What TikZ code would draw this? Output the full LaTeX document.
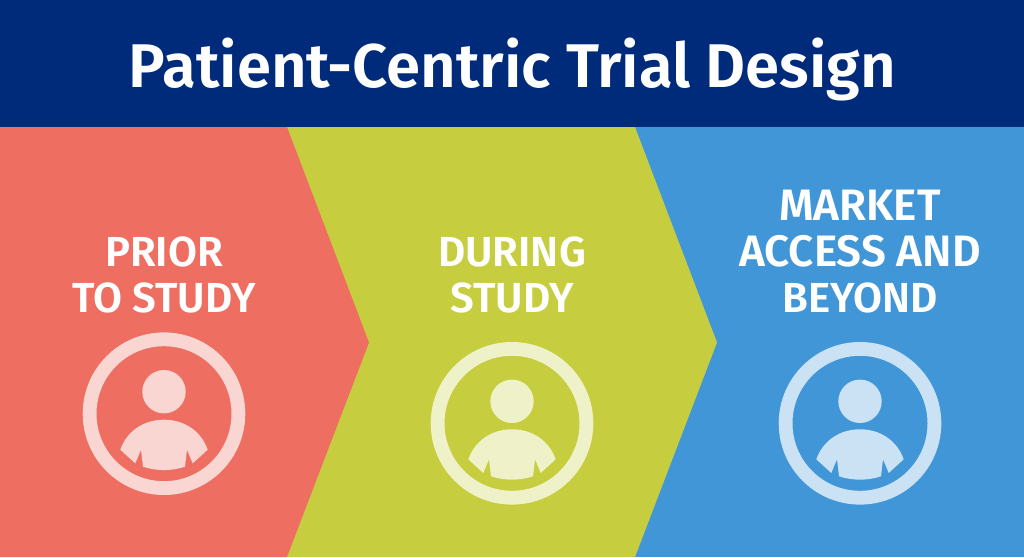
\documentclass[tikz,border=0pt]{standalone}
\usepackage{fontspec}
\setmainfont{Fira Sans}[UprightFont=* SemiBold]
\definecolor{navy}{HTML}{002B7A}
\definecolor{coral}{HTML}{EE6E61}
\definecolor{olive}{HTML}{C6CE3F}
\definecolor{skyb}{HTML}{4196D8}
\newcommand{\biglbl}[1]{{\fontsize{44}{46}\selectfont #1}}
\tikzset{
 lbl/.style={text=white,align=center,font=\fontsize{42}{46}\selectfont},
 band/.style={fill=#1,draw=none},
}
\newcommand{\personicon}[3]{%
 \begin{scope}[shift={(#1,#2)},yscale=-1]
 \draw[#3,line width=13.8pt] (0,0) circle (74.4);
 \fill[#3] (0,-22) circle (21.7);
 \fill[#3] (-43.7,36) .. controls (-37,17) and (-20,6) .. (0,6) .. controls (20,6) and (37,17) .. (43.7,36) -- (28.7,49.7) -- (23,36) -- (21,53) .. controls (8,57.5) and (-8,57.5) .. (-21,53) -- (-23,36) -- (-28.7,49.7) -- cycle;
 \end{scope}}
\begin{document}
\begin{tikzpicture}[x=1pt,y=1pt]
\useasboundingbox (0,0) rectangle (1024,557);
\fill[band=skyb] (0,0) rectangle (1024,430);
\fill[band=olive] (287,430) -- (635,430) -- (717,214.5) -- (635,0) -- (287,0) -- cycle;
\fill[band=coral] (0,430) -- (287,430) -- (369,214.5) -- (287,0) -- (0,0) -- cycle;
\fill[band=navy] (0,430) rectangle (1024,557);
\node[text=white,font=\fontsize{61.7}{70}\selectfont] (title) at (512.5,487.5) {Patient-Centric Trial Design};
\node[lbl] (a) at (164,282) {PRIOR\\TO STUDY};
\node[lbl] (b) at (512,282) {DURING\\STUDY};
\node[lbl] (c) at (860,305.5) {\biglbl{MARKET}\\\biglbl{ACCESS AND}\\BEYOND};
\personicon{164}{143.3}{white!72!coral}
\personicon{512}{133.7}{white!72!olive}
\personicon{860}{133.7}{white!72!skyb}
\end{tikzpicture}
\end{document}
